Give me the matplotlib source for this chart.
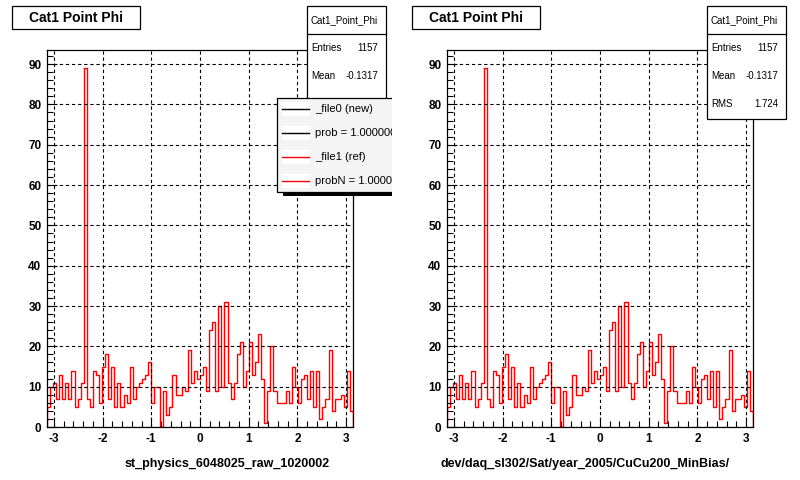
import matplotlib.pyplot as plt
import numpy as np
from matplotlib.patches import Rectangle
from matplotlib.ticker import MultipleLocator
from matplotlib.transforms import Affine2D

plt.rcParams['font.family'] = ['Liberation Sans', 'DejaVu Sans']
plt.rcParams['axes.unicode_minus'] = False

# Cat1 Point Phi, 100 bins over [-pi, pi]
phi_counts = [
    5, 10, 11, 7, 13, 7, 11, 7, 14, 5,
    7, 11, 89, 7, 5, 14, 13, 6, 15, 18,
    7, 15, 5, 11, 5, 8, 6, 15, 7, 10,
    11, 12, 13, 16, 6, 10, 10, 0, 9, 3,
    5, 13, 8, 8, 10, 9, 19, 11, 14, 12,
    13, 15, 9, 24, 26, 9, 30, 10, 31, 11,
    7, 11, 18, 21, 10, 14, 21, 13, 16, 23,
    12, 1, 9, 20, 9, 6, 6, 6, 9, 6,
    15, 10, 6, 12, 13, 7, 14, 5, 14, 2,
    5, 7, 19, 4, 7, 7, 8, 5, 14, 4,
]
hist_name = "Cat1_Point_Phi"
title = "Cat1 Point Phi"
entries = "1157"
mean = "-0.1317"
rms = "1.724"
x_titles = ["st_physics_6048025_raw_1020002",
            "dev/daq_sl302/Sat/year_2005/CuCu200_MinBias/"]
legend_labels = ["_file0 (new)", "prob = 1.000000", "_file1 (ref)", "probN = 1.000000"]
legend_colors = ["black", "black", "red", "red"]

W, H = 800, 480
fig = plt.figure(figsize=(8, 4.8), dpi=100)
# pixel coords, origin top-left
px = Affine2D().scale(1 / W, -1 / H).translate(0, 1) + fig.transFigure

edges = np.linspace(-np.pi, np.pi, len(phi_counts) + 1)


def box(x0, y0, x1, y1):
    r = Rectangle((x0, y0), x1 - x0, y1 - y0, transform=px,
                  facecolor='white', edgecolor='black', lw=0.9)
    fig.add_artist(r)


for k, off in enumerate([0, 400]):
    ax = fig.add_axes([(off + 47) / W, 53 / H, 306 / W, 377 / H])
    # new file (black) sits under the reference (red), same contents
    ax.stairs(phi_counts, edges, color='black', lw=0.5)
    ax.stairs(phi_counts, edges, color='red', lw=1)
    ax.set_xlim(-np.pi, np.pi)
    ax.set_ylim(0, 93.5)
    ax.xaxis.set_major_locator(MultipleLocator(1))
    ax.xaxis.set_minor_locator(MultipleLocator(0.2))
    ax.yaxis.set_major_locator(MultipleLocator(10))
    ax.yaxis.set_minor_locator(MultipleLocator(2))
    ax.tick_params(which='both', direction='in', top=False, right=False,
                   width=0.8, labelsize=8.5, pad=4)
    ax.tick_params(which='major', length=7)
    ax.tick_params(which='minor', length=4)
    ax.grid(True, which='major', color='black', ls=(0, (3, 2.5)), lw=0.8)
    for lab in ax.get_xticklabels() + ax.get_yticklabels():
        lab.set_fontweight('bold')
    for sp in ax.spines.values():
        sp.set_linewidth(0.9)

    # x axis title, right aligned like ROOT
    fig.text(off + 330, 464, x_titles[k], transform=px, ha='right', va='center',
             fontsize=9, fontweight='bold')

    # title box
    box(off + 11.5, 6, off + 140, 29)
    fig.text(off + 76, 17.5, title, transform=px, ha='center', va='center',
             fontsize=10, fontweight='bold')

    # stats box (RMS row on the left pad is hidden by the legend)
    sx0, sx1 = off + 307, off + 386
    box(sx0, 5.5, sx1, 119)
    fig.add_artist(plt.Line2D([sx0, sx1], [34, 34], transform=px, color='black', lw=0.9))
    fig.text((sx0 + sx1) / 2 - 2, 20, hist_name, transform=px, ha='center', va='center', fontsize=7)
    rows = [("Entries", entries), ("Mean", mean)]
    if k == 1:
        rows.append(("RMS", rms))
    for j, (name, val) in enumerate(rows):
        yy = 48 + 28 * j
        fig.text(sx0 + 4.5, yy, name, transform=px, ha='left', va='center', fontsize=7)
        fig.text(sx1 - 8, yy, val, transform=px, ha='right', va='center', fontsize=7)

# legend on the left pad, clipped at the pad edge
lax = fig.add_axes([276 / W, 1 - 200 / H, (392 - 276) / W, (200 - 96) / H], zorder=5)
lax.set_xlim(276, 392)
lax.set_ylim(200, 96)
lax.axis('off')
lax.add_patch(Rectangle((283, 191), 200, 5, facecolor='black', edgecolor='none'))
lax.add_patch(Rectangle((276.5, 97.5), 200, 94, facecolor='#f4f4f4', edgecolor='black', lw=0.9))
for i, (lab, c) in enumerate(zip(legend_labels, legend_colors)):
    y = 109 + 24 * i
    lax.add_patch(Rectangle((282, y - 7), 28, 14, facecolor='white', edgecolor='none'))
    lax.plot([282, 309], [y, y], color=c, lw=1)
    lax.text(315, y, lab, ha='left', va='center', fontsize=8, clip_on=True)

fig.savefig("out.png", dpi=100)
